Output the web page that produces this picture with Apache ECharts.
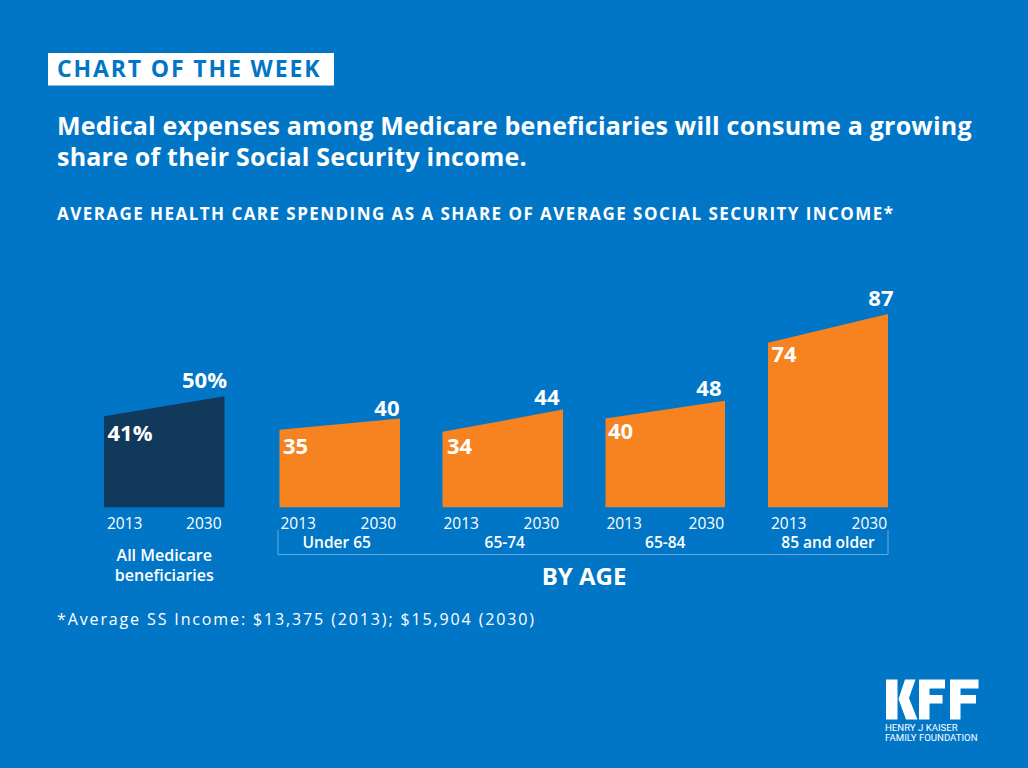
<!DOCTYPE html>
<html>
<head>
<meta charset="utf-8">
<title>Chart of the week</title>
<script src="https://cdn.jsdelivr.net/npm/echarts@6/dist/echarts.min.js"></script>
<style>
    html, body { margin: 0; padding: 0; background: #0276c6; }
    #main { width: 1028px; height: 768px; }
</style>
</head>
<body>
<div id="main"></div>
<script>
var years = ['2013', '2030'];
var groups = ['All Medicare\nbeneficiaries', 'Under 65', '65-74', '65-84', '85 and older'];
var values2013 = [41, 35, 34, 40, 74];
var values2030 = [50, 40, 44, 48, 87];
var suffixes = ['%', '', '', '', ''];

// layout of each panel, px
var panelLeft = [104, 279.5, 442.5, 605.5, 768];
var panelWidth = [120.5, 120.5, 120.5, 119.5, 120];
var labelShift2013 = [[3, 16], [3, 15], [4, 13], [2, 11], [3, 10]];
var labelShift2030 = [[3, -17], [0, -12], [-3, -14], [-3, -14], [6, -17]];
var tickPad = [[3, 3], [1, 4], [1, 4], [1, 1], [3, 1]];
var groupGap = [37, 24, 24, 24, 24];
var groupSize = [16, 15.5, 15.5, 15.5, 15.5];
var groupPad = [[0, 0, 0, 0], [0, 6, 0, 0], [0, 0, 0, 4], [0, 0, 0, 0], [0, 0, 0, 0]];

var BLUE = '#0276c6', ORANGE = '#f78220', NAVY = '#10395c';
var FONT = '"Open Sans", sans-serif';

// tracking for the texts that are spaced out in the original
var tracking = {
    'CHART OF THE WEEK': 1.87,
    'Medical expenses among Medicare beneficiaries will consume a growing': 0.21,
    'share of their Social Security income.': 0.21,
    'AVERAGE HEALTH CARE SPENDING AS A SHARE OF AVERAGE SOCIAL SECURITY INCOME*': 1.45,
    '*Average SS Income: $13,375 (2013); $15,904 (2030)': 1.87
};

var grids = [], xAxes = [], yAxes = [], series = [];
groups.forEach(function (name, i) {
    grids.push({ left: panelLeft[i], width: panelWidth[i], top: 285, height: 222.5 });
    xAxes.push({
        type: 'category',
        gridIndex: i,
        data: years,
        boundaryGap: false,
        axisLine: { show: false },
        axisTick: { show: false },
        name: name,
        nameLocation: 'middle',
        nameGap: groupGap[i],
        nameTextStyle: { color: '#fff', fontFamily: FONT, fontSize: groupSize[i], fontWeight: 600, lineHeight: 20, padding: groupPad[i] },
        axisLabel: {
            color: '#fff',
            fontFamily: FONT,
            fontSize: 15.5,
            margin: 7,
            interval: 0,
            alignMinLabel: 'left',
            alignMaxLabel: 'right',
            padding: [0, tickPad[i][1], 0, tickPad[i][0]]
        }
    });
    yAxes.push({ type: 'value', gridIndex: i, min: 0, max: 100, show: false });

    var valueLabel = function (params) { return params.value + suffixes[i]; };
    series.push({
        type: 'line',
        xAxisIndex: i,
        yAxisIndex: i,
        symbol: 'circle',
        symbolSize: 1,
        itemStyle: { color: 'transparent' },
        lineStyle: { width: 0 },
        areaStyle: { color: i === 0 ? NAVY : ORANGE, opacity: 1 },
        silent: true,
        animation: false,
        data: [
            {
                value: values2013[i],
                label: { show: true, position: 'right', distance: 0, offset: labelShift2013[i], formatter: valueLabel, color: '#fff', fontFamily: FONT, fontSize: 22, fontWeight: 700 }
            },
            {
                value: values2030[i],
                label: { show: true, position: 'left', distance: 0, offset: labelShift2030[i], formatter: valueLabel, color: '#fff', fontFamily: FONT, fontSize: 22, fontWeight: 700 }
            }
        ]
    });
});

function text(str, x, y, size, weight, color, align) {
    return {
        type: 'text',
        x: x,
        y: y,
        silent: true,
        style: { text: str, fill: color || '#fff', font: (weight || 400) + ' ' + size + 'px ' + FONT, align: align || 'left', verticalAlign: 'middle' }
    };
}

function logoPoly(points) {
    return { type: 'polygon', silent: true, shape: { points: points }, style: { fill: '#fff' } };
}

var extras = [
    { type: 'rect', silent: true, shape: { x: 48, y: 53, width: 286, height: 32.5 }, style: { fill: '#fff' } },
    text('CHART OF THE WEEK', 57, 68, 23, 700, BLUE),
    text('Medical expenses among Medicare beneficiaries will consume a growing', 57, 125, 25, 700),
    text('share of their Social Security income.', 57, 156, 25, 700),
    text('AVERAGE HEALTH CARE SPENDING AS A SHARE OF AVERAGE SOCIAL SECURITY INCOME*', 57, 213, 17, 700),
    text('BY AGE', 584, 575, 24, 700, '#fff', 'center'),
    text('*Average SS Income: $13,375 (2013); $15,904 (2030)', 57, 619, 16, 400),
    {
        type: 'polyline',
        silent: true,
        shape: { points: [[278, 530], [278, 554.5], [888, 554.5], [888, 530]] },
        style: { fill: 'none', stroke: '#66a9dc', lineWidth: 1 }
    },
    // KFF logo
    logoPoly([[886, 679.5], [897.5, 679.5], [897.5, 719.5], [886, 719.5]]),
    logoPoly([[905, 679.5], [915.5, 679.5], [909, 698], [917.5, 719.5], [906, 719.5], [898.5, 699]]),
    logoPoly([[919, 679.5], [945, 679.5], [945, 688.5], [929.5, 688.5], [929.5, 695], [942.5, 695], [942.5, 703.5], [929.5, 703.5], [929.5, 719.5], [919, 719.5]]),
    logoPoly([[950, 679.5], [978.5, 679.5], [978.5, 688.5], [960.5, 688.5], [960.5, 695], [976, 695], [976, 703.5], [960.5, 703.5], [960.5, 719.5], [950, 719.5]]),
    {
        type: 'text', silent: true, x: 885, y: 727,
        style: { text: 'HENRY J KAISER', fill: '#fff', font: '400 9.6px Roboto, sans-serif', verticalAlign: 'middle' }
    },
    {
        type: 'text', silent: true, x: 885, y: 737,
        style: { text: 'FAMILY FOUNDATION', fill: '#fff', font: '400 9.6px Roboto, sans-serif', verticalAlign: 'middle' }
    }
];

var myChart = echarts.init(document.getElementById('main'), null, { renderer: 'svg', width: 1028, height: 768 });

function applyTracking() {
    document.querySelectorAll('#main svg text').forEach(function (el) {
        var sp = tracking[el.textContent];
        if (sp) el.setAttribute('letter-spacing', sp);
    });
}
myChart.on('rendered', applyTracking);

myChart.setOption({
    backgroundColor: BLUE,
    animation: false,
    grid: grids,
    xAxis: xAxes,
    yAxis: yAxes,
    series: series,
    graphic: { elements: extras }
});
applyTracking();
</script>
</body>
</html>
